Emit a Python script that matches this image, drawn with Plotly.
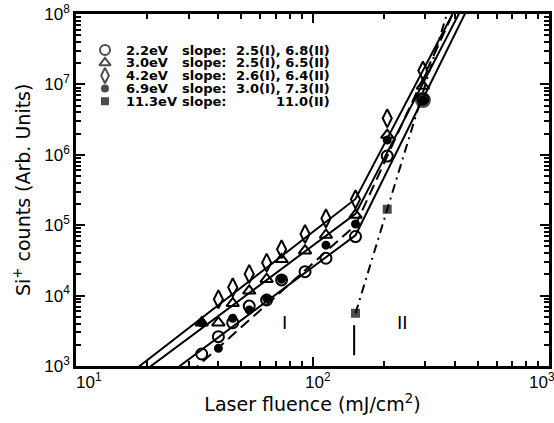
import numpy as np
import plotly.graph_objects as go

# ---------------- data ----------------
x_22 = [34, 40, 46, 54, 64, 74, 93, 114, 152, 207, 293]
y_22 = [1.48e3, 2.61e3, 4.12e3, 7.1e3, 8.66e3, 1.67e4, 2.19e4, 3.39e4, 6.9e4, 9.6e5, 6.2e6]

x_30 = [34, 40, 46, 54, 64, 74, 93, 114, 152, 207, 293]
y_30 = [4.12e3, 4.12e3, 7.78e3, 1.17e4, 1.71e4, 3.28e4, 4.34e4, 7.26e4, 1.40e5, 1.91e6, 9.5e6]

x_42 = [40, 46, 54, 64, 74, 93, 114, 152, 207, 293]
y_42 = [8.86e3, 1.31e4, 2.03e4, 2.93e4, 4.55e4, 7.5e4, 1.25e5, 2.33e5, 3.3e6, 1.57e7]

x_69 = [34, 40, 46, 54, 64, 74, 114, 152, 207, 293]
y_69 = [4.1e3, 1.78e3, 4.76e3, 6.24e3, 9.16e3, 1.71e4, 5.2e4, 1.04e5, 1.62e6, 6.0e6]

x_113 = [152, 207, 293]
y_113 = [5.6e3, 1.68e5, 6.0e6]

labels = ["2.2eV", "3.0eV", "4.2eV", "6.9eV", "11.3eV"]
slope_I = [2.5, 2.5, 2.6, 3.0, None]
slope_II = [6.8, 6.5, 6.4, 7.3, 11.0]
break_x = 152
break_y = [7.2e4, 1.45e5, 2.36e5, 1.0e5, 5.6e3]
region_boundary = 150
region_label_x = [76, 241]

x_ticks = [10, 100, 1000]
y_ticks = [1e3, 1e4, 1e5, 1e6, 1e7, 1e8]

# ---------------- figure ----------------
series = [
    (x_22, y_22, "circle-open", 11, "solid"),
    (x_30, y_30, "triangle-up-open", 11, "solid"),
    (x_42, y_42, "diamond-tall-open", 13, "solid"),
    (x_69, y_69, "circle", 7, "dash"),
    (x_113, y_113, "square", 7, "dashdot"),
]
dash_map = {"solid": "solid", "dash": "11px,6px", "dashdot": "9px,5px,2px,5px"}

fig = go.Figure()

# fitted lines
for i, (xs, ys, sym, sz, ds) in enumerate(series):
    lb = np.log10(break_x)
    ly = np.log10(break_y[i])
    lx_end = np.log10(1000)
    if slope_I[i] is not None:
        lx0 = 1.0
        xs_line = [10 ** lx0, break_x, 1000]
        ys_line = [10 ** (ly - slope_I[i] * (lb - lx0)), break_y[i],
                   10 ** (ly + slope_II[i] * (lx_end - lb))]
    else:
        xs_line = [break_x, 1000]
        ys_line = [break_y[i], 10 ** (ly + slope_II[i] * (lx_end - lb))]
    fig.add_trace(go.Scatter(x=xs_line, y=ys_line, mode="lines",
                             line=dict(color="black", width=2, dash=dash_map[ds]),
                             showlegend=False, hoverinfo="skip"))

# markers
for i, (xs, ys, sym, sz, ds) in enumerate(series):
    if i == 4:
        syms = ["square", "square", "circle"]
        sizes = [7, 7, 14]
    else:
        syms = sym
        sizes = sz
    fig.add_trace(go.Scatter(x=xs, y=ys, mode="markers", name=labels[i],
                             marker=dict(symbol=syms, size=sizes, color="black",
                                         line=dict(color="black", width=2)),
                             showlegend=False))

# legend symbols on an overlay axis
leg_x = (105 - 76) / 473
leg_y = [(366 - r) / 352 for r in [50, 62.8, 75.6, 88.4, 101.2]]
fig.add_trace(go.Scatter(x=[leg_x] * 5, y=leg_y, mode="markers", xaxis="x2", yaxis="y2",
                         marker=dict(symbol=["circle-open", "triangle-up-open", "diamond-tall-open",
                                             "circle", "square"],
                                     size=[10, 10, 11, 6, 6], color="black",
                                     line=dict(color="black", width=2)),
                         showlegend=False, hoverinfo="skip"))

lfont = dict(family="DejaVu Sans", size=13, color="black", weight="bold")
ann = []
for i, lab in enumerate(labels):
    ann.append(dict(xref="paper", yref="paper", x=(125 - 76) / 473, y=leg_y[i], text=lab,
                    showarrow=False, xanchor="left", yanchor="middle", font=lfont, borderpad=0))
    ann.append(dict(xref="paper", yref="paper", x=(181 - 76) / 473, y=leg_y[i], text="slope:",
                    showarrow=False, xanchor="left", yanchor="middle", font=lfont, borderpad=0))
    vals = (f"{slope_I[i]:.1f}(I), " if slope_I[i] is not None else "") + f"{slope_II[i]:.1f}(II)"
    ann.append(dict(xref="paper", yref="paper", x=(331 - 76) / 473, y=leg_y[i],
                    text=vals, showarrow=False, xanchor="right",
                    yanchor="middle", font=lfont, borderpad=0))

# region labels
rfont = dict(family="Liberation Sans", size=19, color="black")
for txt, xv in zip(["I", "II"], region_label_x):
    ann.append(dict(xref="x", yref="paper", x=np.log10(xv), y=(366 - 335) / 352, text=txt,
                    showarrow=False, font=rfont))

# x tick labels
tfont = dict(family="Liberation Sans", size=17, color="black")
for v, off in zip(x_ticks, [-2, -10, -22]):
    ann.append(dict(xref="paper", yref="paper", x=(np.log10(v) - 1) / 2, y=0,
                    text=f"10<sup>{int(np.log10(v))}</sup>", showarrow=False,
                    xanchor="left", yanchor="top", xshift=off, yshift=-2, font=tfont))

# y axis title
ann.append(dict(xref="paper", yref="paper", x=(22 - 76) / 473, y=0.5,
                text="Si<sup>+</sup> counts (Arb. Units)", textangle=-90, showarrow=False,
                xanchor="center", yanchor="middle",
                font=dict(family="DejaVu Sans", size=19, color="black")))

fig.update_layout(annotations=ann)
fig.add_shape(type="line", xref="x", yref="y", x0=region_boundary, x1=region_boundary,
              y0=1.42e3, y1=3.8e3, line=dict(color="black", width=2))

minor_x = [k * 10 ** n for n in [1, 2] for k in range(2, 10)]
minor_y = [k * 10 ** n for n in range(3, 8) for k in range(2, 10)]

fig.update_xaxes(type="log", range=[1, 3], tickmode="array", tickvals=x_ticks,
                 showticklabels=False, automargin=False,
                 ticks="inside", ticklen=9, tickwidth=2, tickcolor="black",
                 showline=True, linecolor="black", linewidth=2.5, mirror="allticks",
                 showgrid=False, zeroline=False,
                 minor=dict(tickmode="array", tickvals=minor_x, ticks="inside", ticklen=5,
                            tickwidth=1.5, tickcolor="black", showgrid=False),
                 title=dict(text="Laser fluence (mJ/cm<sup>2</sup>)",
                            font=dict(family="DejaVu Sans", size=19, color="black"),
                            standoff=30))
fig.update_yaxes(type="log", range=[3, 8], tickmode="array", tickvals=y_ticks,
                 ticktext=[f"10<sup>{int(np.log10(v))}</sup>" for v in y_ticks],
                 tickfont=tfont, automargin=False,
                 ticks="inside", ticklen=9, tickwidth=2, tickcolor="black",
                 showline=True, linecolor="black", linewidth=2.5, mirror="allticks",
                 showgrid=False, zeroline=False,
                 minor=dict(tickmode="array", tickvals=minor_y, ticks="inside", ticklen=5,
                            tickwidth=1.5, tickcolor="black", showgrid=False))

fig.update_layout(
    width=554, height=423,
    margin=dict(l=76, r=5, t=14, b=57, autoexpand=False),
    paper_bgcolor="white", plot_bgcolor="white",
    xaxis2=dict(overlaying="x", range=[0, 1], visible=False, automargin=False),
    yaxis2=dict(overlaying="y", range=[0, 1], visible=False, automargin=False),
    showlegend=False,
)

fig.write_html("out.html", config={"displayModeBar": False},
               post_script="document.body.style.margin='0';document.body.style.overflow='hidden';")
